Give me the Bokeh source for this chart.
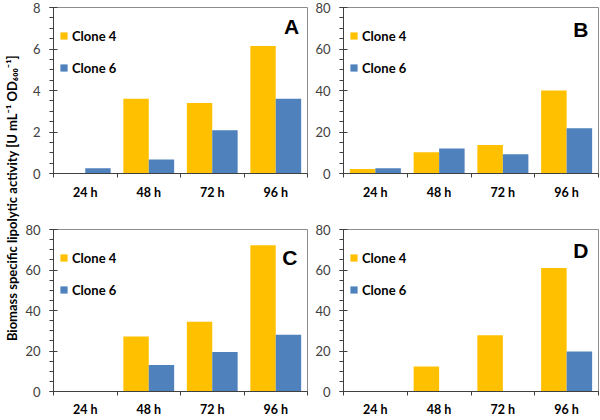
import numpy as np
from bokeh.plotting import figure
from bokeh.models import (Range1d, FixedTicker, Legend, LegendItem, Label,
                          LinearAxis, ColumnDataSource)
from bokeh.layouts import row, column
from bokeh.embed import file_html
from bokeh.resources import INLINE

# ---------------- data ----------------
categories = ["24 h", "48 h", "72 h", "96 h"]
series_names = ["Clone 4", "Clone 6"]
colors = ["#FFC000", "#4F81BD"]

a_clone4 = [0.0, 3.6, 3.4, 6.15]
a_clone6 = [0.25, 0.68, 2.08, 3.6]
b_clone4 = [2.2, 10.2, 13.7, 40.0]
b_clone6 = [2.5, 12.1, 9.3, 21.8]
c_clone4 = [0.0, 27.2, 34.5, 72.2]
c_clone6 = [0.0, 13.1, 19.5, 28.0]
d_clone4 = [0.0, 12.4, 27.8, 61.0]
d_clone6 = [0.0, 0.0, 0.0, 19.8]

panel_letters = ["A", "B", "C", "D"]
y_max = [8, 80, 80, 80]
y_major = [2, 20, 20, 20]

y_title = "Biomass specific lipolytic activity  [U mL\u207b\u00b9 OD\u2086\u2080\u2080\u207b\u00b9]"

FONT = "Lato"
GRID = "#8c8c8c"
AXIS = "#404040"
ITEM_H = 17


def make_panel(c4, c6, ymax, ystep, letter, letter_xy, frame_w, frame_h,
               borders, xstandoff):
    bl, br, bt, bb = borders
    p = figure(frame_width=frame_w, frame_height=frame_h, output_backend="svg",
               toolbar_location=None, x_range=Range1d(0, len(categories)),
               y_range=Range1d(0, ymax), x_axis_type=None, y_axis_type=None,
               min_border_left=bl, min_border_right=br,
               min_border_top=bt, min_border_bottom=bb)
    p.background_fill_color = "white"
    p.border_fill_color = "white"
    p.outline_line_color = GRID
    p.outline_line_width = 1

    idx = np.arange(len(categories))
    src = ColumnDataSource(dict(x4=idx + 0.3, x6=idx + 0.7, c4=c4, c6=c6))
    r4 = p.vbar(x="x4", top="c4", bottom=0, width=0.4, source=src,
                fill_color=colors[0], line_color=None)
    r6 = p.vbar(x="x6", top="c6", bottom=0, width=0.4, source=src,
                fill_color=colors[1], line_color=None)

    # y axis
    yticks = list(np.arange(0, ymax + ystep / 2, ystep))
    yminor = list(np.arange(0, ymax + ystep / 8, ystep / 4))
    yax = LinearAxis(ticker=FixedTicker(ticks=yticks, minor_ticks=yminor),
                     axis_label=None)
    yax.axis_line_color = AXIS
    yax.major_tick_line_color = AXIS
    yax.minor_tick_line_color = AXIS
    yax.major_tick_in = 4
    yax.major_tick_out = 4
    yax.minor_tick_in = 0
    yax.minor_tick_out = 4
    yax.major_label_standoff = 9
    yax.major_label_text_font = FONT
    yax.major_label_text_font_size = "13px"
    yax.major_label_text_color = AXIS
    p.add_layout(yax, "left")

    # x axis: labels at category centres, ticks at boundaries
    centers = [i + 0.5 for i in range(len(categories))]
    bounds = [float(i) for i in range(len(categories) + 1)]
    xax = LinearAxis(ticker=FixedTicker(ticks=centers, minor_ticks=bounds),
                     axis_label=None)
    xax.major_label_overrides = {c: lab for c, lab in zip(centers, categories)}
    xax.axis_line_color = AXIS
    xax.major_tick_out = 0
    xax.major_tick_in = 0
    xax.minor_tick_in = 0
    xax.minor_tick_out = 4
    xax.minor_tick_line_color = AXIS
    xax.major_label_standoff = xstandoff
    xax.major_label_text_font = FONT
    xax.major_label_text_font_style = "bold"
    xax.major_label_text_font_size = "12.5px"
    xax.major_label_text_color = "black"
    p.add_layout(xax, "below")

    p.xgrid.ticker = FixedTicker(ticks=bounds[1:-1])
    p.ygrid.ticker = FixedTicker(ticks=yticks)
    p.xgrid.grid_line_color = GRID
    p.ygrid.grid_line_color = GRID

    spacing = 33 - ITEM_H
    top_off = 27 - ITEM_H / 2
    leg_h = 2 * ITEM_H + spacing
    legend = Legend(items=[LegendItem(label=series_names[0], renderers=[r4]),
                           LegendItem(label=series_names[1], renderers=[r6])],
                    location=(6, frame_h - top_off - leg_h),
                    orientation="vertical", padding=0, margin=0,
                    spacing=spacing, label_height=13, glyph_height=9,
                    glyph_width=9, label_standoff=4, border_line_color=None,
                    background_fill_alpha=0,
                    label_text_font=FONT, label_text_font_style="bold",
                    label_text_font_size="13px", label_text_color="black")
    p.add_layout(legend, "center")

    lab = Label(x=letter_xy[0], y=letter_xy[1], text=letter,
                text_align="right", text_baseline="top",
                text_font="Liberation Sans", text_font_style="bold",
                text_font_size="21px", text_color="black")
    p.add_layout(lab)
    return p


TOTAL_H = 420
pa = make_panel(a_clone4, a_clone6, y_max[0], y_major[0], panel_letters[0],
                (3.87, 7.62), 254, 166, (33, 3, 7, 32), 7)
pb = make_panel(b_clone4, b_clone6, y_max[1], y_major[1], panel_letters[1],
                (3.84, 75.0), 255, 166, (33, 2, 7, 32), 7)
pc = make_panel(c_clone4, c_clone6, y_max[2], y_major[2], panel_letters[2],
                (3.84, 71.8), 254, 162, (33, 3, 24, 0), 6)
pd = make_panel(d_clone4, d_clone6, y_max[3], y_major[3], panel_letters[3],
                (3.84, 75.3), 255, 162, (33, 2, 24, 0), 6)

# y title column
tf = figure(width=20, height=TOTAL_H - 2, output_backend="svg",
            toolbar_location=None, x_range=Range1d(0, 1),
            y_range=Range1d(0, TOTAL_H - 2), x_axis_type=None,
            y_axis_type=None, min_border=0)
tf.outline_line_color = None
tf.grid.visible = False
tl = Label(x=0.55, y=(TOTAL_H - 2) - 196, text=y_title, angle=np.pi / 2,
           text_align="center", text_baseline="middle",
           text_font=FONT, text_font_style="bold", text_font_size="13px",
           text_color="black")
tf.add_layout(tl)

layout = row(tf, column(row(pa, pb), row(pc, pd)))

open("out.html", "w").write(file_html(layout, INLINE))
